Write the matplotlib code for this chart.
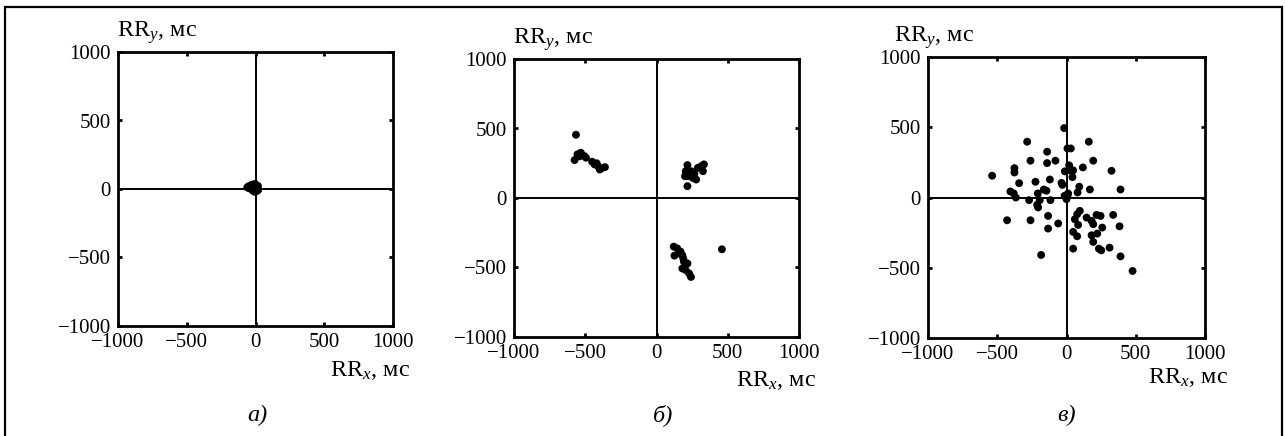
import matplotlib
matplotlib.use("Agg")
import matplotlib.pyplot as plt
from matplotlib.patches import Rectangle

plt.rcParams["font.family"] = ["Liberation Serif", "DejaVu Serif"]
plt.rcParams["mathtext.fontset"] = "custom"
plt.rcParams["mathtext.rm"] = "Liberation Serif"
plt.rcParams["mathtext.it"] = "Liberation Serif:italic"

# RR-interval scatter data, ms (x = RR_x, y = RR_y)
a_x = [-60, -50, -38, -25, -15, -5, 5, 14, 20, 8, -8, -22, -34, -48, -10, 0, 12, -2, -28, 18]
a_y = [12, 20, 26, 30, 34, 28, 22, 8, -6, -16, -20, -10, 2, 6, 10, 0, -8, 36, 15, 22]

b_x = [-565, -575, -555, -531, -507, -495, -540, -452, -435, -411, -386, -362, -398, -420,
       217, 205, 217, 229, 242, 254, 278, 217, 290, 314, 333, 326, 200, 266,
       121, 145, 169, 181, 157, 126, 188, 193, 217, 181, 205, 229, 242, 459]
b_y = [455, 273, 314, 326, 302, 290, 300, 261, 242, 229, 213, 222, 205, 250,
       237, 193, 157, 169, 193, 145, 133, 85, 217, 229, 242, 193, 157, 174,
       -350, -362, -386, -411, -399, -415, -435, -459, -471, -507, -519, -543, -568, -369]

c_x = [-537, -284, -376, -376, -140, -140, -260, -80,
       -17, 7, 31, 161, 193, 118, 325,
       19, 24, -12, 48, 43,
       -120, -224, -342, -36, -30, 92, 80, 169, 390,
       -405, -381, -366, -270, -207, -164, -145, -193, -212, -205, -116,
       -14, 7, 0, 12,
       -429, -260, -133, -133, -60, -183,
       48, 77, 48, 96, 77, 60, 84,
       145, 181, 217, 246, 193, 258, 181, 222, 193, 234, 251, 311, 337, 383, 390, 477]
c_y = [155, 397, 209, 178, 326, 245, 262, 262,
       494, 349, 349, 397, 262, 214, 190,
       229, 193, 186, 193, 145,
       128, 112, 102, 104, 90, 77, 36, 57, 57,
       43, 29, 0, -19, 29, 57, 48, -19, -52, -71, -19,
       12, 12, -12, 29,
       -162, -162, -131, -221, -185, -409,
       -245, -276, -364, -95, -119, -155, -195,
       -143, -166, -124, -131, -190, -214, -269, -257, -316, -364, -376, -357, -124, -205, -419, -523]

ticks = [-1000, -500, 0, 500, 1000]
panel_names = ["а)", "б)", "в)"]


def draw_panel(fig, rect, xs, ys, ylab_dx, xlab_dx, xlab_dy, name, name_x):
    ax = fig.add_axes(rect)
    ax.axhline(0, color="black", lw=1.4, zorder=1)
    ax.axvline(0, color="black", lw=1.4, zorder=1)
    ax.scatter(xs, ys, s=32, color="black", edgecolors="none", zorder=3)
    ax.set_xlim(-1000, 1000)
    ax.set_ylim(-1000, 1000)
    ax.set_xticks(ticks)
    ax.set_yticks(ticks)
    ax.tick_params(direction="in", length=3, width=2, top=True, right=True,
                   labelsize=15, pad=5)
    for sp in ax.spines.values():
        sp.set_linewidth(2)

    ax.annotate(r"RR$_{\mathit{y}}$, мс", xy=(0, 1), xycoords="axes fraction",
                xytext=(ylab_dx, 19), textcoords="offset pixels",
                ha="left", va="center", fontsize=17.5)
    ax.annotate(r"RR$_{\mathit{x}}$, мс", xy=(1, 0), xycoords="axes fraction",
                xytext=(xlab_dx, -xlab_dy), textcoords="offset pixels",
                ha="right", va="center", fontsize=17.5)
    fig.text(name_x / 1285, 1 - 415 / 436, name, ha="center", va="center",
             fontsize=17.5, style="italic")
    return ax


def main():
    fig = plt.figure(figsize=(12.85, 4.36), dpi=100)

    draw_panel(fig, [118 / 1285, 110 / 436, 275 / 1285, 274 / 436], a_x, a_y,
               -1, 17, 44, panel_names[0], 257)
    draw_panel(fig, [514 / 1285, 99 / 436, 285 / 1285, 278 / 436], b_x, b_y,
               -1, 17, 43, panel_names[1], 663)
    draw_panel(fig, [928 / 1285, 98 / 436, 277 / 1285, 281 / 436], c_x, c_y,
               -34, 23, 39, panel_names[2], 1067)

    # outer frame round all three panels
    fig.patches.append(Rectangle((5 / 1285, -0.05), 1277 / 1285, 1.05 - 7 / 436,
                                 transform=fig.transFigure, fill=False,
                                 edgecolor="black", lw=1.6, clip_on=False))

    fig.savefig("out.png", dpi=100)


if __name__ == "__main__":
    main()
